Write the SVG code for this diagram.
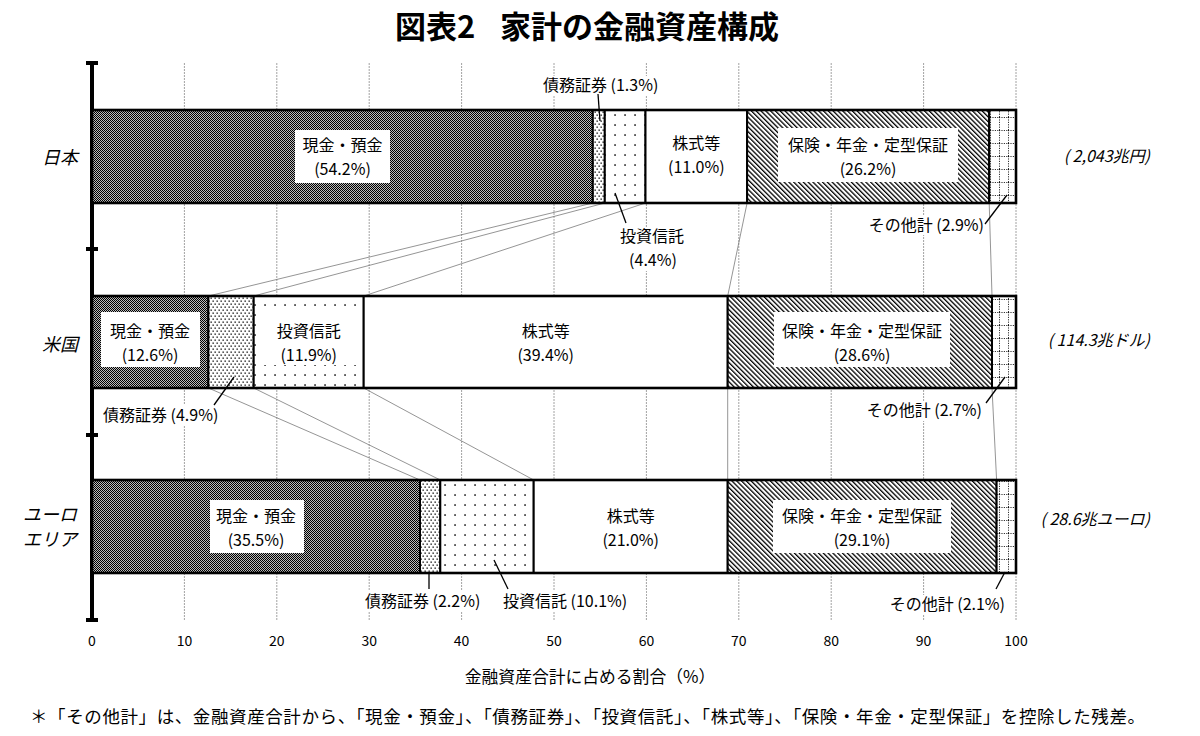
<svg xmlns="http://www.w3.org/2000/svg" width="1200" height="736" viewBox="0 0 1200 736">
<style>
.t{font-family:"Noto Sans CJK JP","Noto Sans",sans-serif;font-size:16px;fill:#000}
.c{text-anchor:middle}
.e{text-anchor:end}
.it{font-style:italic}
.ax{font-size:14px}
.grid line{stroke:#8a8a8a;stroke-width:0.8;stroke-dasharray:2 1}
.conn line{stroke:#7a7a7a;stroke-width:0.8}
.seg{stroke:#000;stroke-width:2}
.frame{fill:none;stroke:#000;stroke-width:2.6}
.box{fill:#fff}
.lead{stroke:#000;stroke-width:1.3}
</style>
<defs>
<pattern id="pCash" width="2" height="2" patternUnits="userSpaceOnUse"><rect width="2" height="2" fill="#bcbcbc"/><rect width="1" height="1" fill="#000"/><rect x="1" y="1" width="1" height="1" fill="#000"/></pattern>
<pattern id="pBond" width="4" height="6" patternUnits="userSpaceOnUse"><rect width="4" height="6" fill="#fff"/><rect x="0.5" y="0.5" width="1.3" height="1.3" fill="#000"/><rect x="2.5" y="3.5" width="1.3" height="1.3" fill="#000"/></pattern>
<pattern id="pTrust" width="10" height="10" patternUnits="userSpaceOnUse"><rect width="10" height="10" fill="#fff"/><rect x="4.3" y="4.3" width="1.5" height="1.5" fill="#000"/></pattern>
<pattern id="pIns" width="3.4" height="3.4" patternUnits="userSpaceOnUse" patternTransform="rotate(-45)"><rect width="3.4" height="3.4" fill="#fff"/><rect width="1.3" height="3.4" fill="#000"/></pattern>
<pattern id="pOther" width="9" height="13" patternUnits="userSpaceOnUse"><rect width="9" height="13" fill="#fff"/><line x1="0.5" y1="0" x2="0.5" y2="13" stroke="#000" stroke-width="0.8" stroke-dasharray="1.2 1.2"/><line x1="0" y1="0.5" x2="9" y2="0.5" stroke="#000" stroke-width="0.8" stroke-dasharray="1.2 1.2"/></pattern>
</defs>
<rect width="1200" height="736" fill="#fff"/>

<text class="t" x="395" y="38" style="font-size:31px;font-weight:bold">図表2<tspan x="500">家計の金融資産構成</tspan></text>

<g id="grid" class="grid">
<line x1="184.4" y1="63" x2="184.4" y2="620"/>
<line x1="276.8" y1="63" x2="276.8" y2="620"/>
<line x1="369.2" y1="63" x2="369.2" y2="620"/>
<line x1="461.6" y1="63" x2="461.6" y2="620"/>
<line x1="554" y1="63" x2="554" y2="620"/>
<line x1="646.4" y1="63" x2="646.4" y2="620"/>
<line x1="738.8" y1="63" x2="738.8" y2="620"/>
<line x1="831.2" y1="63" x2="831.2" y2="620"/>
<line x1="923.6" y1="63" x2="923.6" y2="620"/>
<line x1="1016" y1="63" x2="1016" y2="620"/>
</g>

<g id="connectors" class="conn">
<line x1="592.8" y1="203" x2="208.4" y2="296"/>
<line x1="604.8" y1="203" x2="253.7" y2="296"/>
<line x1="645.5" y1="203" x2="363.7" y2="296"/>
<line x1="747.1" y1="203" x2="727.7" y2="296"/>
<line x1="989.2" y1="203" x2="992" y2="296"/>
<line x1="208.4" y1="388" x2="420" y2="480"/>
<line x1="253.7" y1="388" x2="440.3" y2="480"/>
<line x1="363.7" y1="388" x2="533.7" y2="480"/>
<line x1="727.7" y1="388" x2="727.7" y2="480"/>
<line x1="992" y1="388" x2="996.6" y2="480"/>
</g>

<g id="axis">
<line x1="92" y1="61" x2="92" y2="622" stroke="#000" stroke-width="4"/>
<line x1="86" y1="63" x2="98" y2="63" stroke="#000" stroke-width="4"/>
<line x1="86" y1="249" x2="98" y2="249" stroke="#000" stroke-width="4"/>
<line x1="86" y1="435" x2="98" y2="435" stroke="#000" stroke-width="4"/>
<line x1="86" y1="620" x2="98" y2="620" stroke="#000" stroke-width="4"/>
<text class="t c ax" x="92" y="646">0</text>
<text class="t c ax" x="184.4" y="646">10</text>
<text class="t c ax" x="276.8" y="646">20</text>
<text class="t c ax" x="369.2" y="646">30</text>
<text class="t c ax" x="461.6" y="646">40</text>
<text class="t c ax" x="554" y="646">50</text>
<text class="t c ax" x="646.4" y="646">60</text>
<text class="t c ax" x="738.8" y="646">70</text>
<text class="t c ax" x="831.2" y="646">80</text>
<text class="t c ax" x="923.6" y="646">90</text>
<text class="t c ax" x="1016" y="646">100</text>
<text class="t c" x="590" y="683" style="font-size:16.8px">金融資産合計に占める割合（%）</text>
</g>

<g id="bar-japan">
<text class="t e it" x="78" y="164" style="font-size:18px">日本</text>
<rect class="seg" x="92" y="110" width="500.8" height="93" fill="url(#pCash)"/>
<rect class="seg" x="592.8" y="110" width="12" height="93" fill="url(#pBond)"/>
<rect class="seg" x="604.8" y="110" width="40.7" height="93" fill="url(#pTrust)"/>
<rect class="seg" x="645.5" y="110" width="101.6" height="93" fill="#fff"/>
<rect class="seg" x="747.1" y="110" width="242.1" height="93" fill="url(#pIns)"/>
<rect class="seg" x="989.2" y="110" width="26.8" height="93" fill="url(#pOther)"/>
<rect class="frame" x="92" y="110" width="924" height="93"/>
<rect class="box" x="295" y="130" width="95" height="53"/>
<text class="t c" x="342.5" y="151">現金・預金</text>
<text class="t c" x="342.5" y="175">(54.2%)</text>
<text class="t c" x="696.3" y="149">株式等</text>
<text class="t c" x="696.3" y="173">(11.0%)</text>
<rect class="box" x="778" y="128" width="180" height="54"/>
<text class="t c" x="868" y="151">保険・年金・定型保証</text>
<text class="t c" x="868" y="175">(26.2%)</text>
<rect class="box" x="541" y="76" width="126" height="19"/>
<text class="t" x="543" y="91">債務証券 (1.3%)</text>
<line class="lead" x1="598" y1="94" x2="600" y2="121"/>
<rect class="box" x="616" y="227" width="74" height="44"/>
<text class="t c" x="652" y="242">投資信託</text>
<text class="t c" x="653" y="266">(4.4%)</text>
<line class="lead" x1="615" y1="193" x2="626" y2="223"/>
<rect class="box" x="860" y="216" width="126" height="19"/>
<text class="t e" x="984" y="231">その他計 (2.9%)</text>
<line class="lead" x1="1007" y1="195" x2="985" y2="224"/>
<text class="t e it" x="1150" y="162">( 2,043兆円)</text>
</g>

<g id="bar-us">
<text class="t e it" x="78" y="351" style="font-size:18px">米国</text>
<rect class="seg" x="92" y="296" width="116.4" height="92" fill="url(#pCash)"/>
<rect class="seg" x="208.4" y="296" width="45.3" height="92" fill="url(#pBond)"/>
<rect class="seg" x="253.7" y="296" width="110" height="92" fill="url(#pTrust)"/>
<rect class="seg" x="363.7" y="296" width="364" height="92" fill="#fff"/>
<rect class="seg" x="727.7" y="296" width="264.3" height="92" fill="url(#pIns)"/>
<rect class="seg" x="992" y="296" width="24" height="92" fill="url(#pOther)"/>
<rect class="frame" x="92" y="296" width="924" height="92"/>
<rect class="box" x="101" y="312" width="99" height="55"/>
<text class="t c" x="150" y="337">現金・預金</text>
<text class="t c" x="150" y="361">(12.6%)</text>
<rect class="box" x="259" y="313" width="97" height="52"/>
<text class="t c" x="308.7" y="337">投資信託</text>
<text class="t c" x="308.7" y="361">(11.9%)</text>
<text class="t c" x="545.7" y="337">株式等</text>
<text class="t c" x="545.7" y="361">(39.4%)</text>
<rect class="box" x="774" y="312" width="176" height="55"/>
<text class="t c" x="862" y="337">保険・年金・定型保証</text>
<text class="t c" x="862" y="361">(28.6%)</text>
<rect class="box" x="101" y="405" width="125" height="20"/>
<text class="t" x="103" y="421">債務証券 (4.9%)</text>
<line class="lead" x1="234" y1="377" x2="214" y2="405"/>
<rect class="box" x="858" y="401" width="126" height="20"/>
<text class="t e" x="982" y="416">その他計 (2.7%)</text>
<line class="lead" x1="1005" y1="377" x2="986" y2="403"/>
<text class="t e it" x="1150" y="346">( 114.3兆ドル)</text>
</g>

<g id="bar-euro">
<text class="t e it" x="77" y="521" style="font-size:18px">ユーロ</text>
<text class="t e it" x="77" y="546" style="font-size:18px">エリア</text>
<rect class="seg" x="92" y="480" width="328" height="93" fill="url(#pCash)"/>
<rect class="seg" x="420" y="480" width="20.3" height="93" fill="url(#pBond)"/>
<rect class="seg" x="440.3" y="480" width="93.4" height="93" fill="url(#pTrust)"/>
<rect class="seg" x="533.7" y="480" width="194" height="93" fill="#fff"/>
<rect class="seg" x="727.7" y="480" width="268.9" height="93" fill="url(#pIns)"/>
<rect class="seg" x="996.6" y="480" width="19.4" height="93" fill="url(#pOther)"/>
<rect class="frame" x="92" y="480" width="924" height="93"/>
<rect class="box" x="210" y="500" width="94" height="53"/>
<text class="t c" x="256" y="522">現金・預金</text>
<text class="t c" x="256" y="546">(35.5%)</text>
<text class="t c" x="630.7" y="522">株式等</text>
<text class="t c" x="630.7" y="546">(21.0%)</text>
<rect class="box" x="773" y="500" width="178" height="53"/>
<text class="t c" x="862" y="522">保険・年金・定型保証</text>
<text class="t c" x="862" y="546">(29.1%)</text>
<rect class="box" x="363" y="591" width="130" height="20"/>
<text class="t" x="365" y="607">債務証券 (2.2%)</text>
<line class="lead" x1="429" y1="573" x2="429" y2="589"/>
<rect class="box" x="501" y="591" width="145" height="20"/>
<text class="t" x="503" y="607">投資信託 (10.1%)</text>
<line class="lead" x1="494" y1="560" x2="508" y2="589"/>
<rect class="box" x="882" y="595" width="126" height="20"/>
<text class="t e" x="1005" y="610">その他計 (2.1%)</text>
<line class="lead" x1="1005" y1="572" x2="996" y2="589"/>
<text class="t e it" x="1150" y="525">( 28.6兆ユーロ)</text>
</g>

<text class="t" x="30" y="723" style="font-size:17.5px" textLength="1115" lengthAdjust="spacing">＊「その他計」は、金融資産合計から、「現金・預金」、「債務証券」、「投資信託」、「株式等」、「保険・年金・定型保証」を控除した残差。</text>
</svg>
